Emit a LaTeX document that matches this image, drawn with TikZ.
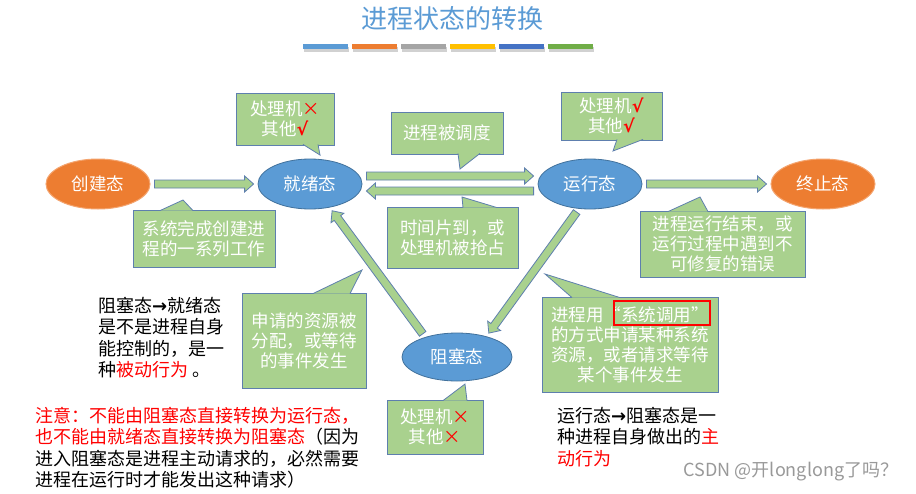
\documentclass[tikz,border=0pt]{standalone}
\usepackage{fontspec}
\setmainfont{Noto Sans CJK SC}
\newfontfamily\symfont{DejaVu Sans}
\usepackage{tikz}
\usetikzlibrary{shapes}
\usetikzlibrary{calc}

\definecolor{leaf}{HTML}{A9D18E}
\definecolor{edge}{HTML}{5E7FAE}
\definecolor{stateblue}{HTML}{5B9BD5}
\definecolor{stateedge}{HTML}{41719C}
\definecolor{stateorange}{HTML}{ED7D31}
\definecolor{orangeedge}{HTML}{F4A46E}
\definecolor{barA}{HTML}{5B9BD5}
\definecolor{barB}{HTML}{ED7D31}
\definecolor{barC}{HTML}{A5A5A5}
\definecolor{barD}{HTML}{FFC000}
\definecolor{barE}{HTML}{4472C4}
\definecolor{barF}{HTML}{70AD47}

\newcommand{\nope}{\textcolor{red}{×}}
\newcommand{\okay}{\textcolor{red}{{\symfont\bfseries √}}}
\newcommand{\goesto}{{\symfont\bfseries →}}
\newcommand{\openq}{\makebox[17.5pt][r]{“}}
\newcommand{\closeq}{\makebox[17.5pt][l]{”}}

\begin{document}
\begin{tikzpicture}[x=1pt,y=-1pt]
\tikzstyle{every node}=[font=\fontsize{17.5}{20}\selectfont]
\tikzstyle{state}=[ellipse,minimum width=104,minimum height=50,inner sep=0,text=white]
\tikzstyle{blue state}=[state,fill=stateblue,draw=stateedge,line width=0.8pt]
\tikzstyle{end state}=[state,fill=stateorange,draw=orangeedge,line width=1pt]
\tikzstyle{bubble}=[fill=leaf,draw=edge,line width=0.8pt]
\tikzstyle{note}=[bubble,text=white,align=center,inner sep=0]
\tikzstyle{flow}=[fill=leaf,draw=edge,line width=0.8pt]
\tikzstyle{plain}=[anchor=north west,align=left,inner sep=0,font=\fontsize{18}{21.5}\selectfont]
\def\gap{4pt}
\def\shaft{4pt}
\def\head{8pt}
\def\headlen{9pt}
\newcommand{\blockarrow}[2]{
  \coordinate (s0) at (#1);
  \coordinate (e0) at (#2);
  \coordinate (s) at ($(s0)!\gap!(e0)$);
  \coordinate (e) at ($(e0)!\gap!(s0)$);
  \coordinate (h) at ($(e)!\headlen!(s)$);
  \filldraw[flow] ($(s)!\shaft!90:(e)$) -- ($(h)!\shaft!-90:(s)$) -- ($(h)!\head!-90:(s)$)
    -- (e) -- ($(h)!\head!90:(s)$) -- ($(h)!\shaft!90:(s)$) -- ($(s)!\shaft!-90:(e)$) -- cycle;
}
\newcommand{\tail}[3]{\filldraw[bubble] (#1) -- (#2) -- (#3);}

\path[use as bounding box,fill=white] (0,0) rectangle (916,493);

% Title
\node[font=\fontsize{26}{30}\selectfont,text=stateblue] (title) at (452,19) {进程状态的转换};
\foreach \c/\px in {barA/303,barB/352,barC/401,barD/450,barE/499,barF/548}{
	\fill[black!18] (\px+1,46.5) rectangle +(45,5);
	\fill[\c] (\px,44) rectangle +(45,5);
}

%=== States
\node[end state] (create) at (98,184) {创建态};
\node[blue state] (ready) at (310,184) {就绪态};
\node[blue state] (running) at (590,184) {运行态};
\node[end state] (done) at (823,184) {终止态};
\node[blue state,minimum width=110,minimum height=48] (block) at (457,357) {阻塞态};

%=== Transitions
\blockarrow{create.east}{ready.west}
\blockarrow{[yshift=8]ready.east}{[yshift=8]running.west}
\blockarrow{[yshift=-7]running.west}{[yshift=-7]ready.east}
\blockarrow{running.east}{done.west}
\blockarrow{block.148}{ready.-50}
\blockarrow{running.246}{block.35}

%=== Callouts
\node[note,minimum width=98,minimum height=52] (rdyinfo) at (285,119) {处理机\nope\\其他\okay};
\tail{[xshift=18,yshift=1]rdyinfo.south}{320,155}{[xshift=33,yshift=1]rdyinfo.south}

\node[note,minimum width=112,minimum height=42] (dispatch) at (447,133) {进程被调度};
\tail{[xshift=11,yshift=1]dispatch.south}{460,169}{[xshift=33,yshift=1]dispatch.south}

\node[note,minimum width=131,minimum height=61] (preempt) at (452.5,237.5) {时间片到，或\\处理机被抢占};
\tail{[xshift=10.5,yshift=-1]preempt.north}{462,197}{[xshift=44.5,yshift=-1]preempt.north}

\node[note,minimum width=101,minimum height=48] (runinfo) at (611.5,116) {处理机\okay\\其他\okay};
\tail{[xshift=5.5,yshift=1]runinfo.south}{613,151}{[xshift=31.5,yshift=1]runinfo.south}

\node[note,minimum width=142,minimum height=57] (made) at (204,238.5) {系统完成创建进\\程的一系列工作};
\tail{[xshift=-44,yshift=-1]made.north}{183,200}{[xshift=-11,yshift=-1]made.north}

\node[note,minimum width=165,minimum height=66] (exitinfo) at (722.5,244) {进程运行结束，或\\运行过程中遇到不\\可修复的错误};
\tail{[xshift=-54.5,yshift=-1]exitinfo.north}{700,197}{[xshift=-14.5,yshift=-1]exitinfo.north}

\node[note,minimum width=124,minimum height=95] (wakeinfo) at (304,340.5) {申请的资源被\\分配，或等待\\的事件发生};
\tail{[xshift=9,yshift=-1]wakeinfo.north}{362,270}{[xshift=46,yshift=-1]wakeinfo.north}

\node[note,minimum width=176,minimum height=95] (sysinfo) at (630,344.5) {进程用\openq 系统调用\closeq\\的方式申请某种系统\\资源，或者请求等待\\某个事件发生};
\tail{[xshift=-58,yshift=-1]sysinfo.north}{545,274}{[xshift=-10,yshift=-1]sysinfo.north}
\draw[red,line width=1.6pt] (614,301) rectangle (710,325);

\node[note,minimum width=96,minimum height=54] (blkinfo) at (435,427) {处理机\nope\\其他\nope};
\tail{[xshift=8,yshift=-1]blkinfo.north}{465,384}{[xshift=32,yshift=-1]blkinfo.north}

%=== Remarks
\node[plain] (passive) at (98,297) {阻塞态\goesto 就绪态\\是不是进程自身\\能控制的，是一\\种\textcolor{red}{被动行为} 。};
\node[plain] (warn) at (35,407) {\textcolor{red}{注意：不能由阻塞态直接转换为运行态，}\\\textcolor{red}{也不能由就绪态直接转换为阻塞态}（因为\\进入阻塞态是进程主动请求的，必然需要\\进程在运行时才能发出这种请求）};
\node[plain] (active) at (557,407) {运行态\goesto 阻塞态是一\\种进程自身做出的\textcolor{red}{主}\\\textcolor{red}{动行为}};
\node[text=black!40,font=\fontsize{18}{20}\selectfont] (mark) at (791,472) {CSDN @开longlong了吗？};
\end{tikzpicture}
\end{document}
